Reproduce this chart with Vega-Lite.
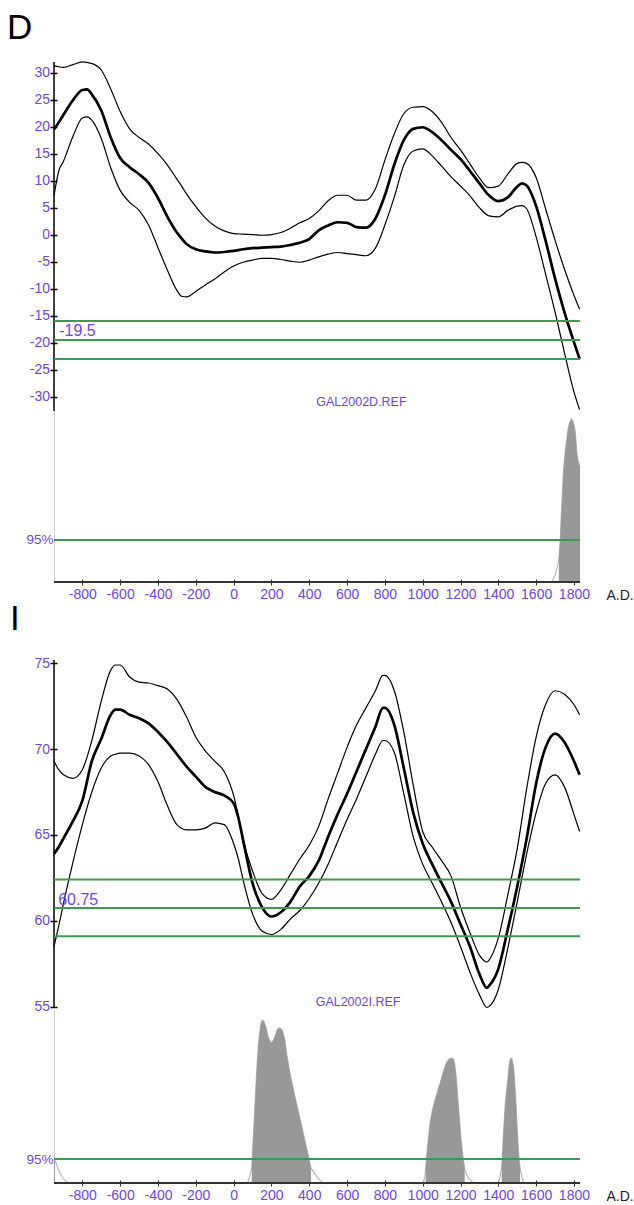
{
  "$schema": "https://vega.github.io/schema/vega-lite/v6.json",
  "padding": {"left": 7, "top": 11, "right": 0, "bottom": 0},
  "background": "white",
  "spacing": 0,
  "config": {
    "view": {"stroke": null},
    "axis": {"grid": false, "labelFont": "Liberation Sans", "titleFont": "Liberation Sans"},
    "text": {"font": "Liberation Sans"},
    "title": {"font": "Liberation Sans"}
  },
  "datasets": {
    "dcurve": [
      {"year": -950, "hi": 31.3, "mid": 19.5, "lo": 7.2},
      {"year": -925, "hi": 31.1, "mid": 20.8, "lo": 11.8},
      {"year": -900, "hi": 31.0, "mid": 22.2, "lo": 13.6},
      {"year": -850, "hi": 31.5, "mid": 24.9, "lo": 18.2},
      {"year": -800, "hi": 32.0, "mid": 26.8, "lo": 21.6},
      {"year": -775, "hi": 31.9, "mid": 26.9, "lo": 21.8},
      {"year": -750, "hi": 31.7, "mid": 26.0, "lo": 21.2},
      {"year": -700, "hi": 30.5, "mid": 23.0, "lo": 17.8},
      {"year": -650, "hi": 27.0, "mid": 18.0, "lo": 12.4},
      {"year": -600, "hi": 22.8, "mid": 14.2, "lo": 8.2},
      {"year": -550, "hi": 19.6, "mid": 12.5, "lo": 6.0},
      {"year": -500, "hi": 18.0, "mid": 11.2, "lo": 4.5},
      {"year": -450, "hi": 16.8, "mid": 9.6, "lo": 1.8},
      {"year": -400, "hi": 15.0, "mid": 6.8, "lo": -2.4},
      {"year": -350, "hi": 12.9, "mid": 3.3, "lo": -6.6},
      {"year": -300, "hi": 10.3, "mid": 0.4, "lo": -10.3},
      {"year": -275, "hi": 9.0, "mid": -0.7, "lo": -11.4},
      {"year": -250, "hi": 7.6, "mid": -1.7, "lo": -11.5},
      {"year": -200, "hi": 5.2, "mid": -2.7, "lo": -10.5},
      {"year": -150, "hi": 3.1, "mid": -3.1, "lo": -9.3},
      {"year": -100, "hi": 1.6, "mid": -3.3, "lo": -8.2},
      {"year": -50, "hi": 0.7, "mid": -3.2, "lo": -6.9},
      {"year": 0, "hi": 0.2, "mid": -3.0, "lo": -5.8},
      {"year": 50, "hi": 0.1, "mid": -2.7, "lo": -5.1},
      {"year": 100, "hi": 0.0, "mid": -2.5, "lo": -4.7},
      {"year": 150, "hi": -0.1, "mid": -2.4, "lo": -4.4},
      {"year": 200, "hi": 0.0, "mid": -2.3, "lo": -4.4},
      {"year": 250, "hi": 0.4, "mid": -2.2, "lo": -4.6},
      {"year": 300, "hi": 1.2, "mid": -1.9, "lo": -4.9},
      {"year": 350, "hi": 2.2, "mid": -1.5, "lo": -5.1},
      {"year": 400, "hi": 3.0, "mid": -0.8, "lo": -4.7},
      {"year": 450, "hi": 4.4, "mid": 0.8, "lo": -4.1},
      {"year": 500, "hi": 6.3, "mid": 1.7, "lo": -3.6},
      {"year": 550, "hi": 7.3, "mid": 2.3, "lo": -3.3},
      {"year": 600, "hi": 7.3, "mid": 2.2, "lo": -3.5},
      {"year": 650, "hi": 6.4, "mid": 1.4, "lo": -3.7},
      {"year": 700, "hi": 6.4, "mid": 1.3, "lo": -3.9},
      {"year": 750, "hi": 8.5, "mid": 3.0, "lo": -2.5},
      {"year": 800, "hi": 13.8, "mid": 7.3, "lo": 1.8},
      {"year": 850, "hi": 18.7, "mid": 13.0, "lo": 7.0},
      {"year": 900, "hi": 22.4, "mid": 17.5, "lo": 12.9},
      {"year": 950, "hi": 23.6, "mid": 19.6, "lo": 15.5},
      {"year": 1000, "hi": 23.7, "mid": 19.9, "lo": 15.9},
      {"year": 1050, "hi": 22.8, "mid": 19.0, "lo": 14.6},
      {"year": 1100, "hi": 20.8, "mid": 17.5, "lo": 12.7},
      {"year": 1150, "hi": 18.0, "mid": 15.7, "lo": 10.7},
      {"year": 1200, "hi": 15.7, "mid": 14.0, "lo": 9.0},
      {"year": 1250, "hi": 13.1, "mid": 11.8, "lo": 7.2},
      {"year": 1300, "hi": 10.5, "mid": 9.5, "lo": 5.0},
      {"year": 1350, "hi": 8.7, "mid": 7.3, "lo": 3.5},
      {"year": 1400, "hi": 9.0, "mid": 6.2, "lo": 3.3},
      {"year": 1450, "hi": 11.2, "mid": 6.9, "lo": 4.5},
      {"year": 1500, "hi": 13.2, "mid": 8.9, "lo": 5.3},
      {"year": 1525, "hi": 13.4, "mid": 9.5, "lo": 5.4},
      {"year": 1550, "hi": 13.2, "mid": 9.1, "lo": 4.8},
      {"year": 1600, "hi": 10.6, "mid": 5.3, "lo": -0.4},
      {"year": 1650, "hi": 4.8, "mid": -1.1, "lo": -7.3},
      {"year": 1700, "hi": -1.0, "mid": -8.1, "lo": -14.3},
      {"year": 1750, "hi": -6.4, "mid": -14.4, "lo": -21.9},
      {"year": 1800, "hi": -11.2, "mid": -19.9, "lo": -29.1},
      {"year": 1830, "hi": -13.8, "mid": -23.0, "lo": -32.4}
    ],
    "icurve": [
      {"year": -950, "hi": 69.3, "mid": 63.9, "lo": 58.5},
      {"year": -925, "hi": 68.8, "mid": 64.3, "lo": 59.7},
      {"year": -900, "hi": 68.5, "mid": 64.8, "lo": 61.0},
      {"year": -850, "hi": 68.3, "mid": 65.8, "lo": 63.4},
      {"year": -800, "hi": 68.8, "mid": 67.0, "lo": 65.6},
      {"year": -750, "hi": 70.5, "mid": 69.3, "lo": 67.5},
      {"year": -700, "hi": 72.8, "mid": 70.6, "lo": 68.9},
      {"year": -650, "hi": 74.6, "mid": 72.0, "lo": 69.6},
      {"year": -625, "hi": 74.9, "mid": 72.3, "lo": 69.7},
      {"year": -600, "hi": 74.9, "mid": 72.3, "lo": 69.76},
      {"year": -550, "hi": 74.2, "mid": 72.0, "lo": 69.76},
      {"year": -500, "hi": 73.9, "mid": 71.8, "lo": 69.6},
      {"year": -450, "hi": 73.85, "mid": 71.5, "lo": 69.1},
      {"year": -400, "hi": 73.7, "mid": 71.0, "lo": 68.1},
      {"year": -350, "hi": 73.5, "mid": 70.4, "lo": 66.7},
      {"year": -300, "hi": 72.9, "mid": 69.7, "lo": 65.6},
      {"year": -250, "hi": 71.9, "mid": 69.0, "lo": 65.3},
      {"year": -200, "hi": 70.7, "mid": 68.4, "lo": 65.3},
      {"year": -150, "hi": 69.9, "mid": 67.8, "lo": 65.4},
      {"year": -100, "hi": 69.3, "mid": 67.5, "lo": 65.7},
      {"year": -50, "hi": 68.7, "mid": 67.3, "lo": 65.6},
      {"year": 0, "hi": 67.3, "mid": 66.85, "lo": 64.5},
      {"year": 25, "hi": 66.1, "mid": 66.0, "lo": 63.6},
      {"year": 50, "hi": 64.75, "mid": 64.7, "lo": 62.4},
      {"year": 100, "hi": 62.9, "mid": 62.2, "lo": 60.4},
      {"year": 150, "hi": 61.6, "mid": 60.8, "lo": 59.4},
      {"year": 200, "hi": 61.25, "mid": 60.25, "lo": 59.2},
      {"year": 250, "hi": 61.8, "mid": 60.5, "lo": 59.5},
      {"year": 300, "hi": 62.7, "mid": 61.1, "lo": 60.1},
      {"year": 350, "hi": 63.6, "mid": 62.0, "lo": 60.6},
      {"year": 400, "hi": 64.4, "mid": 62.6, "lo": 61.3},
      {"year": 450, "hi": 65.5, "mid": 63.5, "lo": 62.2},
      {"year": 500, "hi": 67.1, "mid": 64.9, "lo": 63.3},
      {"year": 550, "hi": 68.6, "mid": 66.2, "lo": 64.6},
      {"year": 600, "hi": 70.1, "mid": 67.4, "lo": 65.9},
      {"year": 650, "hi": 71.4, "mid": 68.7, "lo": 67.1},
      {"year": 700, "hi": 72.4, "mid": 70.0, "lo": 68.4},
      {"year": 750, "hi": 73.4, "mid": 71.3, "lo": 69.7},
      {"year": 790, "hi": 74.3, "mid": 72.4, "lo": 70.5},
      {"year": 800, "hi": 74.3, "mid": 72.4, "lo": 70.5},
      {"year": 850, "hi": 73.4, "mid": 71.4, "lo": 69.8},
      {"year": 900, "hi": 71.0, "mid": 68.9, "lo": 67.4},
      {"year": 950, "hi": 67.9, "mid": 66.3, "lo": 64.9},
      {"year": 1000, "hi": 65.2, "mid": 64.5, "lo": 63.3},
      {"year": 1050, "hi": 64.3, "mid": 63.3, "lo": 62.2},
      {"year": 1100, "hi": 63.5, "mid": 62.2, "lo": 61.1},
      {"year": 1150, "hi": 62.6, "mid": 61.1, "lo": 59.9},
      {"year": 1200, "hi": 60.8, "mid": 59.8, "lo": 58.5},
      {"year": 1250, "hi": 59.3, "mid": 58.5, "lo": 57.0},
      {"year": 1300, "hi": 58.0, "mid": 56.9, "lo": 55.7},
      {"year": 1340, "hi": 57.6, "mid": 56.1, "lo": 54.95},
      {"year": 1350, "hi": 57.7, "mid": 56.2, "lo": 55.0},
      {"year": 1400, "hi": 59.0, "mid": 57.2, "lo": 56.0},
      {"year": 1450, "hi": 61.5, "mid": 59.5, "lo": 58.4},
      {"year": 1500, "hi": 64.2, "mid": 62.0, "lo": 61.1},
      {"year": 1550, "hi": 67.7, "mid": 64.8, "lo": 63.9},
      {"year": 1600, "hi": 70.7, "mid": 68.0, "lo": 66.3},
      {"year": 1650, "hi": 72.6, "mid": 70.1, "lo": 68.0},
      {"year": 1700, "hi": 73.4, "mid": 70.9, "lo": 68.5},
      {"year": 1750, "hi": 73.2, "mid": 70.4, "lo": 67.8},
      {"year": 1800, "hi": 72.6, "mid": 69.3, "lo": 66.2},
      {"year": 1830, "hi": 72.0, "mid": 68.5, "lo": 65.2}
    ],
    "dlevels": [{"level": -23}, {"level": -19.5}, {"level": -16}],
    "ilevels": [{"level": 59.1}, {"level": 60.75}, {"level": 62.4}],
    "dprob": [
      {"year": -950, "p": 0},
      {"year": 1683, "p": 0},
      {"year": 1700, "p": 0.04},
      {"year": 1712, "p": 0.09},
      {"year": 1720, "p": 0.13, "seg": "a"},
      {"year": 1728, "p": 0.26, "seg": "a"},
      {"year": 1736, "p": 0.46, "seg": "a"},
      {"year": 1745, "p": 0.65, "seg": "a"},
      {"year": 1752, "p": 0.74, "seg": "a"},
      {"year": 1759, "p": 0.81, "seg": "a"},
      {"year": 1765, "p": 0.86, "seg": "a"},
      {"year": 1771, "p": 0.905, "seg": "a"},
      {"year": 1777, "p": 0.93, "seg": "a"},
      {"year": 1783, "p": 0.947, "seg": "a"},
      {"year": 1788, "p": 0.952, "seg": "a"},
      {"year": 1794, "p": 0.943, "seg": "a"},
      {"year": 1800, "p": 0.92, "seg": "a"},
      {"year": 1806, "p": 0.885, "seg": "a"},
      {"year": 1811, "p": 0.82, "seg": "a"},
      {"year": 1815, "p": 0.76, "seg": "a"},
      {"year": 1821, "p": 0.71, "seg": "a"},
      {"year": 1827, "p": 0.69, "seg": "a"},
      {"year": 1832, "p": 0.67, "seg": "a"}
    ],
    "iprob": [
      {"year": -950, "p": 0.15, "seg": "s0"},
      {"year": -945, "p": 0.13, "seg": "s0"},
      {"year": -935, "p": 0.1},
      {"year": -920, "p": 0.06},
      {"year": -900, "p": 0.025},
      {"year": -876, "p": 0},
      {"year": 74, "p": 0},
      {"year": 88, "p": 0.05},
      {"year": 96, "p": 0.087, "seg": "s1"},
      {"year": 104, "p": 0.257, "seg": "s1"},
      {"year": 113, "p": 0.447, "seg": "s1"},
      {"year": 122, "p": 0.638, "seg": "s1"},
      {"year": 131, "p": 0.79, "seg": "s1"},
      {"year": 138, "p": 0.86, "seg": "s1"},
      {"year": 145, "p": 0.914, "seg": "s1"},
      {"year": 151, "p": 0.93, "seg": "s1"},
      {"year": 157, "p": 0.927, "seg": "s1"},
      {"year": 164, "p": 0.91, "seg": "s1"},
      {"year": 170, "p": 0.895, "seg": "s1"},
      {"year": 177, "p": 0.86, "seg": "s1"},
      {"year": 184, "p": 0.829, "seg": "s1"},
      {"year": 193, "p": 0.81, "seg": "s1"},
      {"year": 201, "p": 0.8, "seg": "s1"},
      {"year": 210, "p": 0.815, "seg": "s1"},
      {"year": 219, "p": 0.838, "seg": "s1"},
      {"year": 230, "p": 0.875, "seg": "s1"},
      {"year": 240, "p": 0.886, "seg": "s1"},
      {"year": 250, "p": 0.882, "seg": "s1"},
      {"year": 258, "p": 0.87, "seg": "s1"},
      {"year": 265, "p": 0.845, "seg": "s1"},
      {"year": 272, "p": 0.81, "seg": "s1"},
      {"year": 281, "p": 0.733, "seg": "s1"},
      {"year": 294, "p": 0.65, "seg": "s1"},
      {"year": 307, "p": 0.58, "seg": "s1"},
      {"year": 325, "p": 0.49, "seg": "s1"},
      {"year": 342, "p": 0.41, "seg": "s1"},
      {"year": 360, "p": 0.325, "seg": "s1"},
      {"year": 378, "p": 0.238, "seg": "s1"},
      {"year": 394, "p": 0.16, "seg": "s1"},
      {"year": 409, "p": 0.086, "seg": "s1"},
      {"year": 440, "p": 0.035},
      {"year": 469, "p": 0},
      {"year": 1004, "p": 0},
      {"year": 1012, "p": 0.04},
      {"year": 1016, "p": 0.086, "seg": "s2"},
      {"year": 1025, "p": 0.2, "seg": "s2"},
      {"year": 1039, "p": 0.343, "seg": "s2"},
      {"year": 1052, "p": 0.42, "seg": "s2"},
      {"year": 1066, "p": 0.476, "seg": "s2"},
      {"year": 1079, "p": 0.525, "seg": "s2"},
      {"year": 1092, "p": 0.571, "seg": "s2"},
      {"year": 1105, "p": 0.62, "seg": "s2"},
      {"year": 1119, "p": 0.667, "seg": "s2"},
      {"year": 1130, "p": 0.695, "seg": "s2"},
      {"year": 1140, "p": 0.709, "seg": "s2"},
      {"year": 1152, "p": 0.712, "seg": "s2"},
      {"year": 1163, "p": 0.709, "seg": "s2"},
      {"year": 1169, "p": 0.68, "seg": "s2"},
      {"year": 1175, "p": 0.629, "seg": "s2"},
      {"year": 1182, "p": 0.54, "seg": "s2"},
      {"year": 1189, "p": 0.438, "seg": "s2"},
      {"year": 1196, "p": 0.34, "seg": "s2"},
      {"year": 1203, "p": 0.247, "seg": "s2"},
      {"year": 1213, "p": 0.15, "seg": "s2"},
      {"year": 1222, "p": 0.08, "seg": "s2"},
      {"year": 1240, "p": 0.03},
      {"year": 1268, "p": 0},
      {"year": 1401, "p": 0},
      {"year": 1412, "p": 0.05},
      {"year": 1418, "p": 0.09, "seg": "s3"},
      {"year": 1427, "p": 0.28, "seg": "s3"},
      {"year": 1436, "p": 0.438, "seg": "s3"},
      {"year": 1443, "p": 0.52, "seg": "s3"},
      {"year": 1450, "p": 0.59, "seg": "s3"},
      {"year": 1456, "p": 0.66, "seg": "s3"},
      {"year": 1462, "p": 0.705, "seg": "s3"},
      {"year": 1467, "p": 0.712, "seg": "s3"},
      {"year": 1471, "p": 0.709, "seg": "s3"},
      {"year": 1476, "p": 0.69, "seg": "s3"},
      {"year": 1482, "p": 0.647, "seg": "s3"},
      {"year": 1488, "p": 0.55, "seg": "s3"},
      {"year": 1494, "p": 0.438, "seg": "s3"},
      {"year": 1500, "p": 0.31, "seg": "s3"},
      {"year": 1506, "p": 0.19, "seg": "s3"},
      {"year": 1512, "p": 0.11, "seg": "s3"},
      {"year": 1515, "p": 0.085, "seg": "s3"},
      {"year": 1524, "p": 0.035},
      {"year": 1533, "p": 0},
      {"year": 1832, "p": 0}
    ]
  },
  "vconcat": [
    {
      "spacing": 0,
      "bounds": "flush",
      "vconcat": [
        {
          "width": 526,
          "height": 349,
          "title": {"text": "D", "anchor": "start", "frame": "group", "fontSize": 35, "fontWeight": "normal", "color": "black", "dx": -47, "offset": -15, "baseline": "alphabetic"},
          "layer": [
            {
              "data": {"name": "dcurve"},
              "transform": [{"fold": ["hi", "mid", "lo"], "as": ["band", "value"]}],
              "mark": {"type": "line", "color": "black", "interpolate": "monotone"},
              "encoding": {
                "x": {"field": "year", "type": "quantitative", "scale": {"domain": [-950, 1832], "nice": false, "zero": false}, "axis": null},
                "y": {"field": "value", "type": "quantitative", "scale": {"domain": [-32.65, 31.98], "nice": false, "zero": false},
                  "axis": {"title": null, "values": [-30, -25, -20, -15, -10, -5, 0, 5, 10, 15, 20, 25, 30], "labelExpr": "datum.value + ''", "offset": -3, "domain": false, "tickSize": 7, "tickWidth": 1.5, "tickColor": "black", "labelColor": "#6e46e6", "labelFontSize": 14, "labelPadding": 0.5, "labelOverlap": false, "labelBound": false, "labelFlush": false}},
                "strokeWidth": {"field": "band", "type": "nominal", "scale": {"type": "ordinal", "domain": ["hi", "mid", "lo"], "range": [1.2, 2.7, 1.2]}, "legend": null}
              }
            },
            {
              "data": {"values": [{}]},
              "mark": {"type": "rule", "color": "black", "strokeWidth": 1.5},
              "encoding": {"x": {"datum": -950, "type": "quantitative", "axis": null}}
            },
            {
              "data": {"name": "dlevels"},
              "mark": {"type": "rule", "color": "#3d9a50", "strokeWidth": 2},
              "encoding": {"y": {"field": "level", "type": "quantitative",
                "axis": {"title": null, "values": [-30, -25, -20, -15, -10, -5, 0, 5, 10, 15, 20, 25, 30], "labelExpr": "datum.value + ''", "offset": -3, "domain": false, "tickSize": 7, "tickWidth": 1.5, "tickColor": "black", "labelColor": "#6e46e6", "labelFontSize": 14, "labelPadding": 0.5, "labelOverlap": false, "labelBound": false, "labelFlush": false}}}
            },
            {
              "data": {"values": [{}]},
              "mark": {"type": "text", "text": "-19.5", "align": "left", "baseline": "alphabetic", "dy": -4, "fontSize": 16, "color": "#6e46e6"},
              "encoding": {"x": {"datum": -922, "type": "quantitative", "axis": null}, "y": {"datum": -19.5, "type": "quantitative",
                "axis": {"title": null, "values": [-30, -25, -20, -15, -10, -5, 0, 5, 10, 15, 20, 25, 30], "labelExpr": "datum.value + ''", "offset": -3, "domain": false, "tickSize": 7, "tickWidth": 1.5, "tickColor": "black", "labelColor": "#6e46e6", "labelFontSize": 14, "labelPadding": 0.5, "labelOverlap": false, "labelBound": false, "labelFlush": false}}}
            },
            {
              "data": {"values": [{}]},
              "mark": {"type": "text", "text": "GAL2002D.REF", "align": "center", "baseline": "alphabetic", "fontSize": 12.5, "color": "#6e46e6"},
              "encoding": {"x": {"datum": 676, "type": "quantitative", "axis": null}, "y": {"datum": -31.8, "type": "quantitative",
                "axis": {"title": null, "values": [-30, -25, -20, -15, -10, -5, 0, 5, 10, 15, 20, 25, 30], "labelExpr": "datum.value + ''", "offset": -3, "domain": false, "tickSize": 7, "tickWidth": 1.5, "tickColor": "black", "labelColor": "#6e46e6", "labelFontSize": 14, "labelPadding": 0.5, "labelOverlap": false, "labelBound": false, "labelFlush": false}}}
            }
          ]
        },
        {
          "width": 526,
          "height": 171,
          "layer": [
            {
              "data": {"name": "dprob"},
              "mark": {"type": "line", "color": "#b8b8b8", "strokeWidth": 1.2},
              "encoding": {
                "x": {"field": "year", "type": "quantitative", "scale": {"domain": [-950, 1832], "nice": false, "zero": false},
                  "axis": {"values": [-800, -600, -400, -200, 0, 200, 400, 600, 800, 1000, 1200, 1400, 1600, 1800], "labelExpr": "datum.value + ''", "offset": -3, "domain": false, "tickSize": 6, "tickColor": "#333", "labelColor": "#6e46e6", "labelFontSize": 14, "labelPadding": 2, "labelOverlap": false, "labelFlush": false, "labelBound": false, "title": "A.D.", "titleX": 552, "titleY": 20, "titleAlign": "left", "titleBaseline": "alphabetic", "titleAngle": 0, "titleFontSize": 14, "titleFontWeight": "normal", "titleColor": "#222"}},
                "y": {"field": "p", "type": "quantitative", "scale": {"domain": [0, 1], "nice": false},
                  "axis": {"title": null, "values": [0.246], "labelExpr": "'95%'", "ticks": false, "domainColor": "#d4d4d4", "domainWidth": 1, "labelColor": "#6e46e6", "labelFontSize": 13.5, "labelPadding": 1}}
              }
            },
            {
              "data": {"name": "dprob"},
              "transform": [{"filter": "datum.seg != null"}],
              "mark": {"type": "area", "color": "#989898"},
              "encoding": {
                "x": {"field": "year", "type": "quantitative",
                  "axis": {"values": [-800, -600, -400, -200, 0, 200, 400, 600, 800, 1000, 1200, 1400, 1600, 1800], "labelExpr": "datum.value + ''", "offset": -3, "domain": false, "tickSize": 6, "tickColor": "#333", "labelColor": "#6e46e6", "labelFontSize": 14, "labelPadding": 2, "labelOverlap": false, "labelFlush": false, "labelBound": false, "title": "A.D.", "titleX": 552, "titleY": 20, "titleAlign": "left", "titleBaseline": "alphabetic", "titleAngle": 0, "titleFontSize": 14, "titleFontWeight": "normal", "titleColor": "#222"}},
                "y": {"field": "p", "type": "quantitative", "stack": null,
                  "axis": {"title": null, "values": [0.246], "labelExpr": "'95%'", "ticks": false, "domainColor": "#d4d4d4", "domainWidth": 1, "labelColor": "#6e46e6", "labelFontSize": 13.5, "labelPadding": 1}},
                "detail": {"field": "seg"}
              }
            },
            {
              "data": {"values": [{}]},
              "mark": {"type": "rule", "color": "#3d9a50", "strokeWidth": 2},
              "encoding": {"y": {"datum": 0.246, "type": "quantitative",
                "axis": {"title": null, "values": [0.246], "labelExpr": "'95%'", "ticks": false, "domainColor": "#d4d4d4", "domainWidth": 1, "labelColor": "#6e46e6", "labelFontSize": 13.5, "labelPadding": 1}}}
            },
            {
              "data": {"values": [{}]},
              "mark": {"type": "rule", "color": "#333", "strokeWidth": 2},
              "encoding": {"y": {"datum": 0, "type": "quantitative",
                "axis": {"title": null, "values": [0.246], "labelExpr": "'95%'", "ticks": false, "domainColor": "#d4d4d4", "domainWidth": 1, "labelColor": "#6e46e6", "labelFontSize": 13.5, "labelPadding": 1}}}
            }
          ]
        }
      ]
    },
    {
      "spacing": 0,
      "bounds": "flush",
      "vconcat": [
        {
          "width": 526,
          "height": 348,
          "title": {"text": "I", "anchor": "start", "frame": "group", "fontSize": 35, "fontWeight": "normal", "color": "black", "dx": -44, "offset": -9, "baseline": "alphabetic"},
          "layer": [
            {
              "data": {"name": "icurve"},
              "transform": [{"fold": ["hi", "mid", "lo"], "as": ["band", "value"]}],
              "mark": {"type": "line", "color": "black", "interpolate": "monotone"},
              "encoding": {
                "x": {"field": "year", "type": "quantitative", "scale": {"domain": [-950, 1832], "nice": false, "zero": false}, "axis": null},
                "y": {"field": "value", "type": "quantitative", "scale": {"domain": [54.92, 75.19], "nice": false, "zero": false},
                  "axis": {"title": null, "values": [55, 60, 65, 70, 75], "labelExpr": "datum.value + ''", "offset": -3, "domain": false, "tickSize": 7, "tickWidth": 1.5, "tickColor": "black", "labelColor": "#6e46e6", "labelFontSize": 14, "labelPadding": 0.5, "labelOverlap": false, "labelBound": false, "labelFlush": false}},
                "strokeWidth": {"field": "band", "type": "nominal", "scale": {"type": "ordinal", "domain": ["hi", "mid", "lo"], "range": [1.2, 2.7, 1.2]}, "legend": null}
              }
            },
            {
              "data": {"values": [{}]},
              "mark": {"type": "rule", "color": "black", "strokeWidth": 1.5},
              "encoding": {"x": {"datum": -950, "type": "quantitative", "axis": null}}
            },
            {
              "data": {"name": "ilevels"},
              "mark": {"type": "rule", "color": "#3d9a50", "strokeWidth": 2},
              "encoding": {"y": {"field": "level", "type": "quantitative",
                "axis": {"title": null, "values": [55, 60, 65, 70, 75], "labelExpr": "datum.value + ''", "offset": -3, "domain": false, "tickSize": 7, "tickWidth": 1.5, "tickColor": "black", "labelColor": "#6e46e6", "labelFontSize": 14, "labelPadding": 0.5, "labelOverlap": false, "labelBound": false, "labelFlush": false}}}
            },
            {
              "data": {"values": [{}]},
              "mark": {"type": "text", "text": "60.75", "align": "left", "baseline": "alphabetic", "dy": -2.5, "fontSize": 16, "color": "#6e46e6"},
              "encoding": {"x": {"datum": -928, "type": "quantitative", "axis": null}, "y": {"datum": 60.75, "type": "quantitative",
                "axis": {"title": null, "values": [55, 60, 65, 70, 75], "labelExpr": "datum.value + ''", "offset": -3, "domain": false, "tickSize": 7, "tickWidth": 1.5, "tickColor": "black", "labelColor": "#6e46e6", "labelFontSize": 14, "labelPadding": 0.5, "labelOverlap": false, "labelBound": false, "labelFlush": false}}}
            },
            {
              "data": {"values": [{}]},
              "mark": {"type": "text", "text": "GAL2002I.REF", "align": "center", "baseline": "alphabetic", "fontSize": 12.5, "color": "#6e46e6"},
              "encoding": {"x": {"datum": 658, "type": "quantitative", "axis": null}, "y": {"datum": 55.05, "type": "quantitative",
                "axis": {"title": null, "values": [55, 60, 65, 70, 75], "labelExpr": "datum.value + ''", "offset": -3, "domain": false, "tickSize": 7, "tickWidth": 1.5, "tickColor": "black", "labelColor": "#6e46e6", "labelFontSize": 14, "labelPadding": 0.5, "labelOverlap": false, "labelBound": false, "labelFlush": false}}}
            }
          ]
        },
        {
          "width": 526,
          "height": 175,
          "layer": [
            {
              "data": {"name": "iprob"},
              "mark": {"type": "line", "color": "#b8b8b8", "strokeWidth": 1.2},
              "encoding": {
                "x": {"field": "year", "type": "quantitative", "scale": {"domain": [-950, 1832], "nice": false, "zero": false},
                  "axis": {"values": [-800, -600, -400, -200, 0, 200, 400, 600, 800, 1000, 1200, 1400, 1600, 1800], "labelExpr": "datum.value + ''", "offset": -3, "domain": false, "tickSize": 6, "tickColor": "#333", "labelColor": "#6e46e6", "labelFontSize": 14, "labelPadding": 2, "labelOverlap": false, "labelFlush": false, "labelBound": false, "title": "A.D.", "titleX": 552, "titleY": 20, "titleAlign": "left", "titleBaseline": "alphabetic", "titleAngle": 0, "titleFontSize": 14, "titleFontWeight": "normal", "titleColor": "#222"}},
                "y": {"field": "p", "type": "quantitative", "scale": {"domain": [0, 1], "nice": false},
                  "axis": {"title": null, "values": [0.137], "labelExpr": "'95%'", "ticks": false, "domainColor": "#d4d4d4", "domainWidth": 1, "labelColor": "#6e46e6", "labelFontSize": 13.5, "labelPadding": 1}}
              }
            },
            {
              "data": {"name": "iprob"},
              "transform": [{"filter": "datum.seg != null"}],
              "mark": {"type": "area", "color": "#989898"},
              "encoding": {
                "x": {"field": "year", "type": "quantitative",
                  "axis": {"values": [-800, -600, -400, -200, 0, 200, 400, 600, 800, 1000, 1200, 1400, 1600, 1800], "labelExpr": "datum.value + ''", "offset": -3, "domain": false, "tickSize": 6, "tickColor": "#333", "labelColor": "#6e46e6", "labelFontSize": 14, "labelPadding": 2, "labelOverlap": false, "labelFlush": false, "labelBound": false, "title": "A.D.", "titleX": 552, "titleY": 20, "titleAlign": "left", "titleBaseline": "alphabetic", "titleAngle": 0, "titleFontSize": 14, "titleFontWeight": "normal", "titleColor": "#222"}},
                "y": {"field": "p", "type": "quantitative", "stack": null,
                  "axis": {"title": null, "values": [0.137], "labelExpr": "'95%'", "ticks": false, "domainColor": "#d4d4d4", "domainWidth": 1, "labelColor": "#6e46e6", "labelFontSize": 13.5, "labelPadding": 1}},
                "detail": {"field": "seg"}
              }
            },
            {
              "data": {"values": [{}]},
              "mark": {"type": "rule", "color": "#3d9a50", "strokeWidth": 2},
              "encoding": {"y": {"datum": 0.137, "type": "quantitative",
                "axis": {"title": null, "values": [0.137], "labelExpr": "'95%'", "ticks": false, "domainColor": "#d4d4d4", "domainWidth": 1, "labelColor": "#6e46e6", "labelFontSize": 13.5, "labelPadding": 1}}}
            },
            {
              "data": {"values": [{}]},
              "mark": {"type": "rule", "color": "#333", "strokeWidth": 2},
              "encoding": {"y": {"datum": 0, "type": "quantitative",
                "axis": {"title": null, "values": [0.137], "labelExpr": "'95%'", "ticks": false, "domainColor": "#d4d4d4", "domainWidth": 1, "labelColor": "#6e46e6", "labelFontSize": 13.5, "labelPadding": 1}}}
            }
          ]
        }
      ]
    }
  ]
}
